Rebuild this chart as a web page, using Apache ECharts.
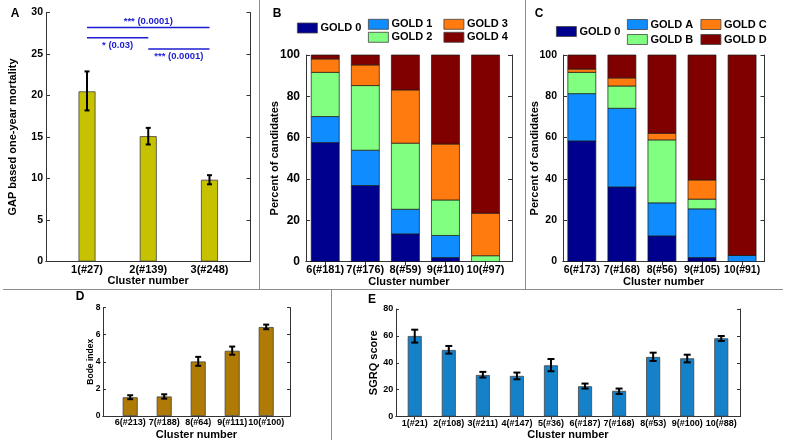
<!DOCTYPE html>
<html><head><meta charset="utf-8">
<script src="https://cdn.jsdelivr.net/npm/echarts@6/dist/echarts.min.js"></script>
<style>html,body{margin:0;padding:0;background:#fff}#c{width:787px;height:446px}</style>
</head><body><div id="c"></div>
<script>
// ---------- Panel A ----------
const aX = [1, 2, 3];
const aCats = ['1(#27)', '2(#139)', '3(#248)'];
const aVal = [20.5, 15.1, 9.85];
const aLo = [18.2, 14.1, 9.3];
const aHi = [22.9, 16.1, 10.4];
const sigFrom = [1, 1, 2];
const sigTo = [3, 2, 3];
const sigY = [28.2, 26.95, 25.6];
const sigText = ['*** (0.0001)', '* (0.03)', '*** (0.0001)'];
// ---------- Panel B ----------
const bX = [6, 7, 8, 9, 10];
const bCats = ['6(#181)', '7(#176)', '8(#59)', '9(#110)', '10(#97)'];
const bNames = ['GOLD 0', 'GOLD 1', 'GOLD 2', 'GOLD 3', 'GOLD 4'];
const bGold0 = [57.6, 36.8, 13.4, 1.9, 0];
const bGold1 = [12.6, 17.1, 11.9, 10.7, 0];
const bGold2 = [21.4, 31.3, 32.0, 17.2, 2.8];
const bGold3 = [6.5, 10.0, 25.8, 27.1, 20.6];
const bGold4 = [1.9, 4.8, 16.9, 43.1, 76.6];
// ---------- Panel C ----------
const cX = [6, 7, 8, 9, 10];
const cCats = ['6(#173)', '7(#168)', '8(#56)', '9(#105)', '10(#91)'];
const cNames = ['GOLD 0', 'GOLD A', 'GOLD B', 'GOLD C', 'GOLD D'];
const cGold0 = [58.4, 36.1, 12.4, 1.9, 0];
const cGoldA = [22.9, 38.1, 16.0, 23.6, 2.9];
const cGoldB = [10.3, 10.8, 30.5, 4.7, 0];
const cGoldC = [1.6, 3.9, 3.2, 9.3, 0];
const cGoldD = [6.8, 11.1, 37.9, 60.5, 97.1];
// ---------- Panel D ----------
const dX = [6, 7, 8, 9, 10];
const dCats = ['6(#213)', '7(#188)', '8(#64)', '9(#111)', '10(#100)'];
const dVal = [1.38, 1.44, 4.02, 4.81, 6.56];
const dLo = [1.24, 1.28, 3.70, 4.52, 6.40];
const dHi = [1.53, 1.60, 4.36, 5.12, 6.74];
// ---------- Panel E ----------
const eX = [1, 2, 3, 4, 5, 6, 7, 8, 9, 10];
const eCats = ['1(#21)', '2(#108)', '3(#211)', '4(#147)', '5(#36)', '6(#187)', '7(#168)', '8(#53)', '9(#100)', '10(#88)'];
const eVal = [59.9, 49.5, 30.9, 30.2, 38.1, 22.5, 19.1, 44.3, 43.3, 58.2];
const eLo = [55.0, 46.8, 29.0, 27.7, 33.7, 20.8, 16.8, 41.3, 40.3, 56.2];
const eHi = [64.6, 52.5, 33.2, 32.7, 42.8, 24.5, 20.8, 47.5, 46.0, 59.9];

const FONT = "'Liberation Sans', Arial, Helvetica, sans-serif";
const AX = '#333';
const goldColors = ['#00008f', '#0f8cff', '#80ff80', '#ff7a0f', '#800000'];

function xAxes(g, min, max, vals, labels, o) {
  return [{
    type: 'value', gridIndex: g, min: min, max: max, position: 'bottom',
    axisLine: { show: true, lineStyle: { color: AX, width: 1 } },
    axisTick: { show: true, inside: true, length: o.tick, customValues: vals, lineStyle: { color: AX } },
    axisLabel: { show: true, customValues: vals, formatter: v => labels[vals.indexOf(v)], margin: o.margin,
      hideOverlap: false, showMinLabel: true, showMaxLabel: true,
      fontFamily: FONT, fontWeight: 'bold', fontSize: o.fs, color: '#000' },
    splitLine: { show: false },
    name: 'Cluster number', nameLocation: 'middle', nameGap: o.nameGap, nameMoveOverlap: false,
    nameTextStyle: { fontFamily: FONT, fontWeight: 'bold', fontSize: 11, color: '#000' }
  }, {
    type: 'value', gridIndex: g, min: min, max: max, position: 'top',
    axisLine: { show: true, lineStyle: { color: AX, width: 1 } },
    axisTick: { show: o.top, inside: true, length: o.tick, customValues: vals, lineStyle: { color: AX } },
    axisLabel: { show: false }, splitLine: { show: false }
  }];
}
function yAxes(g, max, interval, name, o) {
  return [{
    type: 'value', gridIndex: g, min: 0, max: max, interval: interval, position: 'left',
    axisLine: { show: true, lineStyle: { color: AX, width: 1 } },
    axisTick: { show: true, inside: true, length: o.tick, lineStyle: { color: AX } },
    axisLabel: { margin: o.margin, hideOverlap: false, fontFamily: FONT, fontWeight: 'bold', fontSize: o.fs, color: '#000' },
    splitLine: { show: false },
    name: name, nameLocation: 'middle', nameGap: o.nameGap, nameMoveOverlap: false,
    nameTextStyle: { fontFamily: FONT, fontWeight: 'bold', fontSize: o.nfs, color: '#000' }
  }, {
    type: 'value', gridIndex: g, min: 0, max: max, interval: interval, position: 'right',
    axisLine: { show: true, lineStyle: { color: AX, width: 1 } },
    axisTick: { show: true, inside: true, length: o.tick, lineStyle: { color: AX } },
    axisLabel: { show: false }, splitLine: { show: false }
  }];
}
function errSeries(g, xs, lo, hi, cap) {
  return {
    type: 'custom', xAxisIndex: 2 * g, yAxisIndex: 2 * g, z: 5, silent: true,
    data: xs.map((x, i) => [x, lo[i], hi[i]]),
    encode: { x: 0, y: [1, 2] },
    renderItem: function (params, api) {
      const pl = api.coord([api.value(0), api.value(1)]);
      const ph = api.coord([api.value(0), api.value(2)]);
      const st = { stroke: '#000', lineWidth: 2 };
      return { type: 'group', children: [
        { type: 'line', shape: { x1: pl[0], y1: pl[1], x2: ph[0], y2: ph[1] }, style: st },
        { type: 'line', shape: { x1: pl[0] - cap, y1: pl[1], x2: pl[0] + cap, y2: pl[1] }, style: st },
        { type: 'line', shape: { x1: ph[0] - cap, y1: ph[1], x2: ph[0] + cap, y2: ph[1] }, style: st }
      ] };
    }
  };
}
function barSeries(g, xs, vals, width, color) {
  return {
    type: 'bar', xAxisIndex: 2 * g, yAxisIndex: 2 * g, silent: true,
    data: xs.map((x, i) => [x, vals[i]]), barWidth: width,
    itemStyle: { color: color, borderColor: '#444', borderWidth: 0.8 }
  };
}
function stackSeries(g, xs, names, layers, width) {
  const base = xs.map(() => 0);
  return layers.map((layer, k) => {
    const data = xs.map((x, i) => { const s = base[i]; base[i] += layer[i]; return [x, s, base[i]]; });
    return {
      type: 'custom', name: names[k], xAxisIndex: 2 * g, yAxisIndex: 2 * g, silent: true,
      itemStyle: { color: goldColors[k] },
      data: data, encode: { x: 0, y: [1, 2] },
      renderItem: function (params, api) {
        const p0 = api.coord([api.value(0), api.value(1)]);
        const p1 = api.coord([api.value(0), api.value(2)]);
        if (p0[1] - p1[1] <= 0.01) return;
        return { type: 'rect', shape: { x: p0[0] - width / 2, y: p1[1], width: width, height: p0[1] - p1[1] },
          style: { fill: api.visual('color'), stroke: '#1a1a1a', lineWidth: 0.7 } };
      }
    };
  });
}
function legend(names, left, top, gap) {
  return {
    data: names, orient: 'vertical', left: left, top: top, padding: 0, itemGap: gap,
    icon: 'rect', itemWidth: 20, itemHeight: 10, selectedMode: false,
    itemStyle: { borderColor: '#444', borderWidth: 0.8 },
    textStyle: { fontFamily: FONT, fontWeight: 'bold', fontSize: 11, color: '#000', padding: [0, 0, 0, -2] }
  };
}

const grids = [
  { left: 46, top: 12.5, width: 204.5, height: 249 },
  { left: 306, top: 55, width: 206, height: 206.5 },
  { left: 563, top: 55, width: 201.5, height: 206.5 },
  { left: 103, top: 307.5, width: 187, height: 108.5 },
  { left: 396, top: 309, width: 344, height: 107.5 }
].map(g => Object.assign({ containLabel: false, outerBoundsMode: 'none', show: false }, g));

const xAxis = [].concat(
  xAxes(0, 0.33, 3.67, aX, aCats, { tick: 4, margin: 3, fs: 11, nameGap: 14, top: false }),
  xAxes(1, 5.52, 10.66, bX, bCats, { tick: 4, margin: 3, fs: 11, nameGap: 15, top: true }),
  xAxes(2, 5.53, 10.56, cX, cCats, { tick: 4, margin: 3, fs: 10.5, nameGap: 15, top: true }),
  xAxes(3, 5.2, 10.7, dX, dCats, { tick: 3, margin: 2.5, fs: 9, nameGap: 13, top: true }),
  xAxes(4, 0.45, 10.55, eX, eCats, { tick: 3, margin: 3, fs: 9, nameGap: 13, top: true })
);
const yAxis = [].concat(
  yAxes(0, 30, 5, 'GAP based one-year mortality', { tick: 4, margin: 3, fs: 10.5, nameGap: 27.5, nfs: 11 }),
  yAxes(1, 100, 20, 'Percent of candidates', { tick: 4, margin: 6, fs: 12, nameGap: 26, nfs: 11 }),
  yAxes(2, 100, 20, 'Percent of candidates', { tick: 4, margin: 6, fs: 10.5, nameGap: 23, nfs: 11 }),
  yAxes(3, 8, 2, 'Bode index', { tick: 3, margin: 2.6, fs: 8.5, nameGap: 8, nfs: 8.5 }),
  yAxes(4, 80, 20, 'SGRQ score', { tick: 3, margin: 2.7, fs: 9, nameGap: 16.5, nfs: 11 })
);

const sigSeries = {
  type: 'custom', xAxisIndex: 0, yAxisIndex: 0, z: 6, silent: true,
  data: sigFrom.map((f, i) => [f, sigTo[i], sigY[i]]),
  encode: { x: [0, 1], y: 2 },
  renderItem: function (params, api) {
    const p1 = api.coord([api.value(0), api.value(2)]);
    const p2 = api.coord([api.value(1), api.value(2)]);
    const i = params.dataIndex;
    const above = api.value(1) - api.value(0) > 1.5;
    return { type: 'group', children: [
      { type: 'line', shape: { x1: p1[0], y1: p1[1], x2: p2[0], y2: p2[1] }, style: { stroke: '#1c1cd2', lineWidth: 1.5 } },
      { type: 'text', x: (p1[0] + p2[0]) / 2, y: p1[1] + (above ? -6 : 7.5),
        style: { text: sigText[i], fill: '#1c1cd2', font: 'bold 9.5px ' + FONT, align: 'center', verticalAlign: 'middle' } }
    ] };
  }
};

const series = [].concat(
  [barSeries(0, aX, aVal, 17, '#c6c200'), errSeries(0, aX, aLo, aHi, 2.5), sigSeries],
  stackSeries(1, bX, bNames, [bGold0, bGold1, bGold2, bGold3, bGold4], 28),
  stackSeries(2, cX, cNames, [cGold0, cGoldA, cGoldB, cGoldC, cGoldD], 28),
  [barSeries(3, dX, dVal, 15, '#b07a06'), errSeries(3, dX, dLo, dHi, 3)],
  [barSeries(4, eX, eVal, 14, '#1581c8'), errSeries(4, eX, eLo, eHi, 3.5)]
);

const SEP = '#8c8c8c';
function panelLabel(t, x, y) {
  return { type: 'text', x: x, y: y, style: { text: t, fill: '#000', font: 'bold 12px ' + FONT, align: 'center', verticalAlign: 'middle' } };
}
const graphic = [
  { type: 'line', shape: { x1: 259.5, y1: 0, x2: 259.5, y2: 289 }, style: { stroke: SEP, lineWidth: 1 } },
  { type: 'line', shape: { x1: 525.5, y1: 0, x2: 525.5, y2: 289 }, style: { stroke: SEP, lineWidth: 1 } },
  { type: 'line', shape: { x1: 3, y1: 289.5, x2: 783, y2: 289.5 }, style: { stroke: SEP, lineWidth: 1 } },
  { type: 'line', shape: { x1: 331.5, y1: 289.5, x2: 331.5, y2: 440 }, style: { stroke: SEP, lineWidth: 1 } },
  panelLabel('A', 15, 13.5), panelLabel('B', 277, 13.5), panelLabel('C', 539, 14),
  panelLabel('D', 80, 296.5), panelLabel('E', 372, 299.5)
];

const chart = echarts.init(document.getElementById('c'), null, { renderer: 'canvas' });
chart.setOption({
  animation: false,
  backgroundColor: '#fff',
  grid: grids, xAxis: xAxis, yAxis: yAxis, series: series, graphic: graphic,
  legend: [
    legend(['GOLD 0'], 297, 22.5, 2),
    legend(['GOLD 1', 'GOLD 2'], 368, 18.8, 2),
    legend(['GOLD 3', 'GOLD 4'], 443.5, 18.8, 2),
    legend(['GOLD 0'], 556, 26, 4),
    legend(['GOLD A', 'GOLD B'], 627, 19, 4),
    legend(['GOLD C', 'GOLD D'], 700.5, 19, 4)
  ]
});
</script></body></html>
